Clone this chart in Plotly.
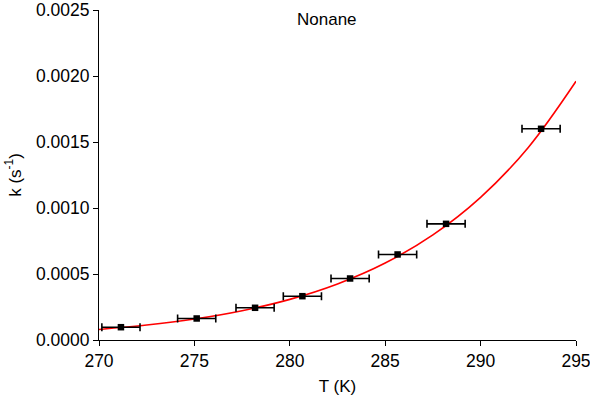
import plotly.graph_objects as go

# Measured points
T_data = [271.15, 275.12, 278.18, 280.66, 283.16, 285.65, 288.19, 293.17]
k_data = [0.000097, 0.000163, 0.000244, 0.000332, 0.000466, 0.000648, 0.000880, 0.001600]
T_err = [1.0, 1.0, 1.0, 1.0, 1.0, 1.0, 1.0, 1.0]

# Fit curve
T_fit = [270.0, 272.5, 275.0, 277.5, 280.0, 282.5, 285.0, 287.5, 290.0, 292.5, 295.0]
k_fit = [0.0000800, 0.0001131, 0.0001589, 0.0002219, 0.0003079, 0.0004250,
         0.0005832, 0.0007960, 0.0010804, 0.0014589, 0.0019600]

FONT = "Liberation Sans, Arial, sans-serif"

fig = go.Figure()
fig.add_trace(go.Scatter(
    x=T_fit, y=k_fit, mode="lines", line=dict(color="#ff0000", width=1.6, shape="spline"),
    showlegend=False, hoverinfo="skip"))
fig.add_trace(go.Scatter(
    x=T_data, y=k_data, mode="markers",
    marker=dict(symbol="square", size=6.5, color="black"),
    error_x=dict(type="data", array=T_err, symmetric=True, color="black", thickness=1.6, width=4),
    showlegend=False))

fig.add_annotation(text="Nonane", x=0.478, y=0.97, xref="paper", yref="paper",
                   showarrow=False, font=dict(family=FONT, size=17, color="black"),
                   xanchor="center", yanchor="middle")

axis_common = dict(showline=True, linecolor="black", linewidth=1, ticks="outside",
                   ticklen=5, tickwidth=1, tickcolor="black", showgrid=False, zeroline=False,
                   mirror=False, automargin=False, ticklabeloverflow="allow",
                   tickfont=dict(family=FONT, size=17.5, color="black"),
                   minor=dict(ticks="outside", ticklen=3, tickwidth=1, tickcolor="black", nticks=2))

fig.update_xaxes(range=[270, 295], dtick=5, tick0=270,
                 title=dict(text="T (K)", font=dict(family=FONT, size=17, color="black"), standoff=10),
                 **axis_common)
fig.update_yaxes(range=[0, 0.0025], dtick=0.0005, tick0=0, tickformat=".4f",
                 title=dict(text="k (s<sup>-1</sup>)", font=dict(family=FONT, size=17, color="black"), standoff=10),
                 **axis_common)

fig.update_layout(width=590, height=412, margin=dict(l=99, r=14, t=10, b=72),
                  plot_bgcolor="white", paper_bgcolor="white",
                  font=dict(family=FONT, size=17, color="black"))

fig.write_html("out.html", config={"displayModeBar": False},
               post_script="document.body.style.margin='0';document.body.style.padding='0';")
